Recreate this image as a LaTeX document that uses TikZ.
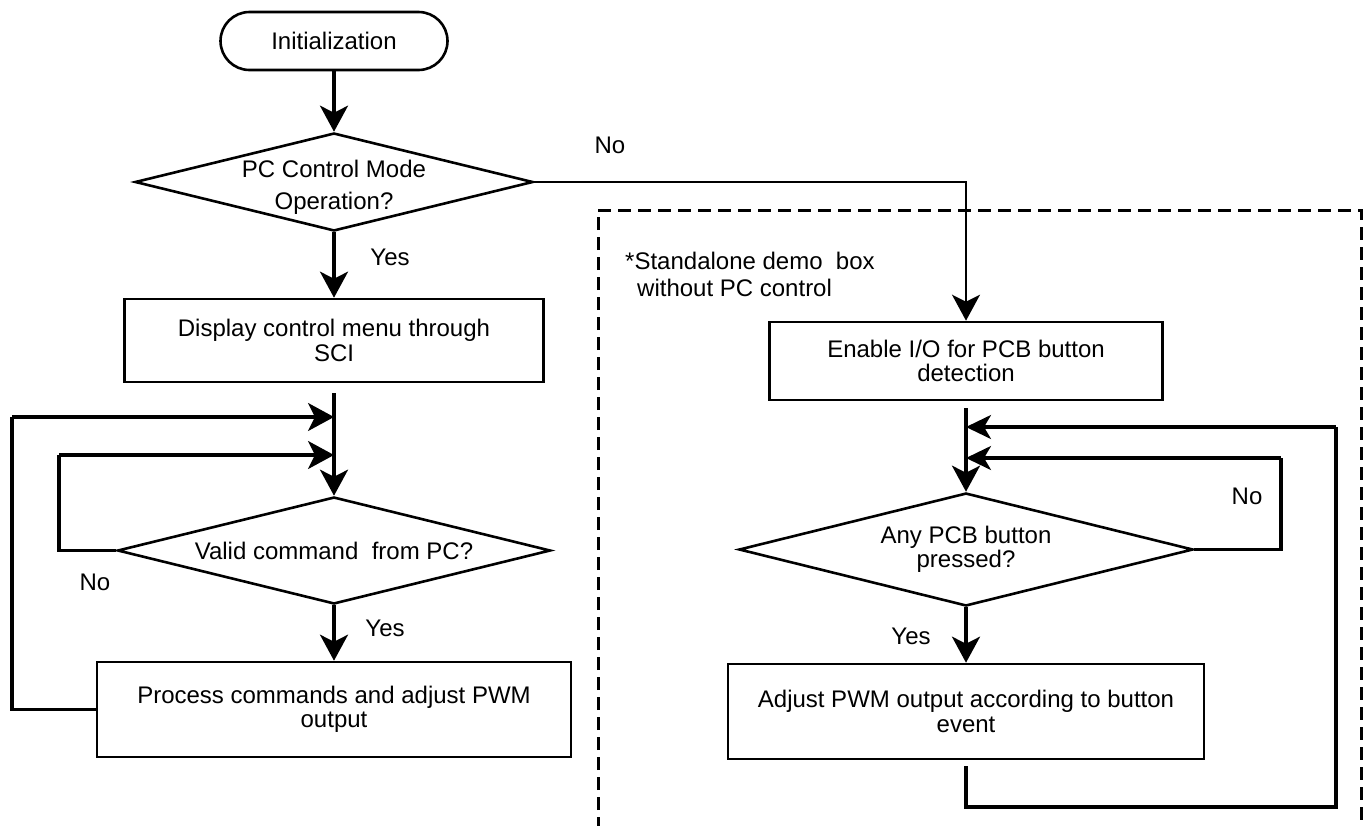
\documentclass[tikz,border=0pt]{standalone}
\usepackage{fontspec}
\setmainfont{Liberation Sans}
\usetikzlibrary{shapes.geometric,arrows.meta}
\begin{document}
\begin{tikzpicture}[x=1pt,y=-1pt,
  every node/.style={font=\fontsize{24}{24.5}\selectfont, inner sep=0pt},
  box/.style={draw, line width=2.6pt, rectangle, align=center},
  dia/.style={draw, line width=2.6pt, diamond, inner sep=0pt},
  txt/.style={align=center},
  con/.style={line width=3.2pt},
  thinl/.style={line width=2.4pt},
  tip/.style={-{Stealth[length=26pt,width=28pt,inset=7pt]}},
  tipn/.style={-{Stealth[length=25pt,width=24pt,inset=7pt]}},
  arr/.style={con, tip},
  arrn/.style={con, tipn},
  frame/.style={line width=3pt, dash pattern=on 13pt off 7pt}]
\useasboundingbox (0,0) rectangle (1364,825);

% left column
\node[draw, line width=2.6pt, rounded corners=29pt, minimum width=227pt, minimum height=58pt] (init) at (334,41) {Initialization};
\node[dia, minimum width=398pt, minimum height=98pt] (d1) at (334,182) {};
\node[txt, font=\fontsize{24}{32}\selectfont] (d1t) at (334,187) {PC Control Mode\\Operation?};
\node[box, minimum width=419pt, minimum height=83pt] (b1) at (334,340.5) {Display control menu through\\SCI};
\node[dia, minimum width=433pt, minimum height=107pt] (d2) at (334,550.5) {};
\node[txt] (d2t) at (d2.center) {Valid command\ \ from PC?};
\node[box, minimum width=474pt, minimum height=95pt] (b2) at (334,709.5) {Process commands and adjust PWM\\output};

% right column
\node[box, minimum width=393pt, minimum height=78pt] (b3) at (966,361) {Enable I/O for PCB button\\detection};
\node[dia, minimum width=454pt, minimum height=113pt] (d3) at (966,549.5) {};
\node[txt] (d3t) at (d3.center) {Any PCB button\\pressed?};
\node[box, minimum width=476pt, minimum height=95pt] (b4) at (966,711.5) {Adjust PWM output according to button\\event};

% labels
\node (no1) at (610,145) {No};
\node (yes1) at (390,257) {Yes};
\node (no2) at (95,582) {No};
\node (yes2) at (385,628) {Yes};
\node (no3) at (1247,496) {No};
\node (yes3) at (911,636) {Yes};
\node[align=left, anchor=north west, font=\fontsize{24}{27}\selectfont] (note) at (625,252) {*Standalone demo\ \ box\\\hspace*{12pt}without PC control};

% dashed frame
\draw[frame] (598,830) -- (598,210) -- (1361,210) -- (1361,830);

% coordinates
\coordinate (s1) at (334,393);
\coordinate (m1) at (334,417);
\coordinate (m2) at (334,455);
\coordinate (o1) at (12,417);
\coordinate (o2) at (59,455);
\coordinate (s2) at (966,408);
\coordinate (m3) at (966,427);
\coordinate (m4) at (966,458);
\coordinate (o3) at (1336,427);
\coordinate (o3b) at (1336,807);
\coordinate (o4) at (1281,458);
\coordinate (e4) at (966,766);

% connectors left
\draw[arr] (init.south) -- (d1.north);
\draw[arr] (d1.south) -- (b1.north);
\draw[arr] (s1) -- (d2.north);
\draw[arr] (d2.south) -- (b2.north);
\draw[con] (b2.west) -| (o1);
\draw[arr] (o1) -- (m1);
\draw[con] (d2.west) -| (o2);
\draw[arr] (o2) -- (m2);

% connectors right
\draw[thinl, tip] (d1.east) -| (b3.north);
\draw[arr] (s2) -- (d3.north);
\draw[con] (d3.east) -| (o4);
\draw[arrn] (o4) -- (m4);
\draw[arr] (d3.south) -- (b4.north);
\draw[con] (e4) |- (o3b) -- (o3);
\draw[arrn] (o3) -- (m3);
\end{tikzpicture}
\end{document}
